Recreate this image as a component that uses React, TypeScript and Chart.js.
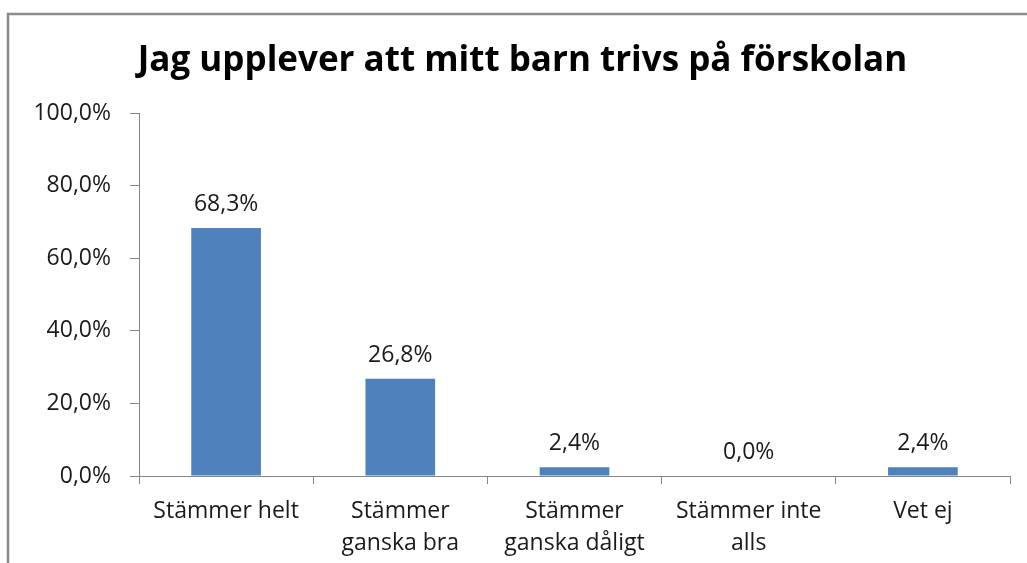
import React, { useEffect, useRef } from "react";
import { Chart, registerables } from "chart.js";

Chart.register(...registerables);

const TITLE = "Jag upplever att mitt barn trivs på förskolan";
const categories: (string | string[])[] = [
  "Stämmer helt",
  ["Stämmer", "ganska bra"],
  ["Stämmer", "ganska dåligt"],
  ["Stämmer inte", "alls"],
  "Vet ej",
];
const values = [68.3, 26.8, 2.4, 0.0, 2.4];
const yTicks = [0, 20, 40, 60, 80, 100];

const FONT = "'Open Sans', sans-serif";
const fmt = (v: number) => v.toFixed(1).replace(".", ",") + "%";

const framePlugin = {
  id: "frame",
  beforeDraw(chart: any) {
    const ctx = chart.ctx;
    ctx.save();
    ctx.fillStyle = "#ffffff";
    ctx.fillRect(0, 0, chart.width, chart.height);
    ctx.strokeStyle = "#8c8c8c";
    ctx.lineWidth = 2.5;
    ctx.strokeRect(8, 14, chart.width + 50, chart.height + 50);
    ctx.restore();
  },
};

const labelPlugin = {
  id: "valueLabels",
  afterDatasetsDraw(chart: any) {
    const ctx = chart.ctx;
    const meta = chart.getDatasetMeta(0);
    ctx.save();
    ctx.font = `23px ${FONT}`;
    ctx.fillStyle = "#1a1a1a";
    ctx.textAlign = "center";
    ctx.textBaseline = "alphabetic";
    meta.data.forEach((bar: any, i: number) => {
      ctx.fillText(fmt(values[i]), bar.x, bar.y - 17);
    });
    ctx.restore();
  },
};

export default function App() {
  const ref = useRef<HTMLCanvasElement>(null);
  useEffect(() => {
    if (!ref.current) return;
    const chart = new Chart(ref.current, {
      type: "bar",
      data: {
        labels: categories,
        datasets: [
          {
            data: values,
            backgroundColor: "#4F81BD",
            borderWidth: 0,
            barPercentage: 0.4,
            categoryPercentage: 1,
          },
        ],
      },
      options: {
        responsive: false,
        animation: false,
        layout: { padding: { left: 35, right: 17, top: 0, bottom: 0 } },
        plugins: {
          legend: { display: false },
          tooltip: { enabled: false },
          title: {
            display: true,
            text: TITLE,
            color: "#000000",
            font: { family: FONT, size: 35, weight: "bold", lineHeight: 1.2 },
            padding: { top: 40, bottom: 31 },
          },
        },
        scales: {
          x: {
            grid: {
              display: true,
              drawOnChartArea: false,
              drawTicks: true,
              tickLength: 8,
              color: "#868686",
              offset: true,
            },
            border: { display: true, color: "#868686", width: 1 },
            ticks: {
              color: "#1a1a1a",
              font: { family: FONT, size: 23, lineHeight: 1.4 },
              padding: 11,
              maxRotation: 0,
              autoSkip: false,
            },
            afterFit(scale: any) {
              scale.height = 87;
            },
          },
          y: {
            min: 0,
            max: 100,
            afterBuildTicks(scale: any) {
              scale.ticks = yTicks.map((v) => ({ value: v }));
            },
            grid: {
              display: true,
              drawOnChartArea: false,
              drawTicks: true,
              tickLength: 9,
              color: "#868686",
            },
            border: { display: true, color: "#868686", width: 1 },
            ticks: {
              color: "#1a1a1a",
              font: { family: FONT, size: 23 },
              padding: 19,
              callback: (v: any) => fmt(Number(v)),
            },
            afterFit(scale: any) {
              scale.width = 104;
            },
          },
        },
      },
      plugins: [framePlugin, labelPlugin],
    });
    return () => chart.destroy();
  }, []);
  return (
    <div style={{ position: "fixed", left: 0, top: 0, width: 1027, height: 563, background: "#fff" }}>
      <canvas ref={ref} width={1027} height={563} style={{ display: "block" }} />
    </div>
  );
}
